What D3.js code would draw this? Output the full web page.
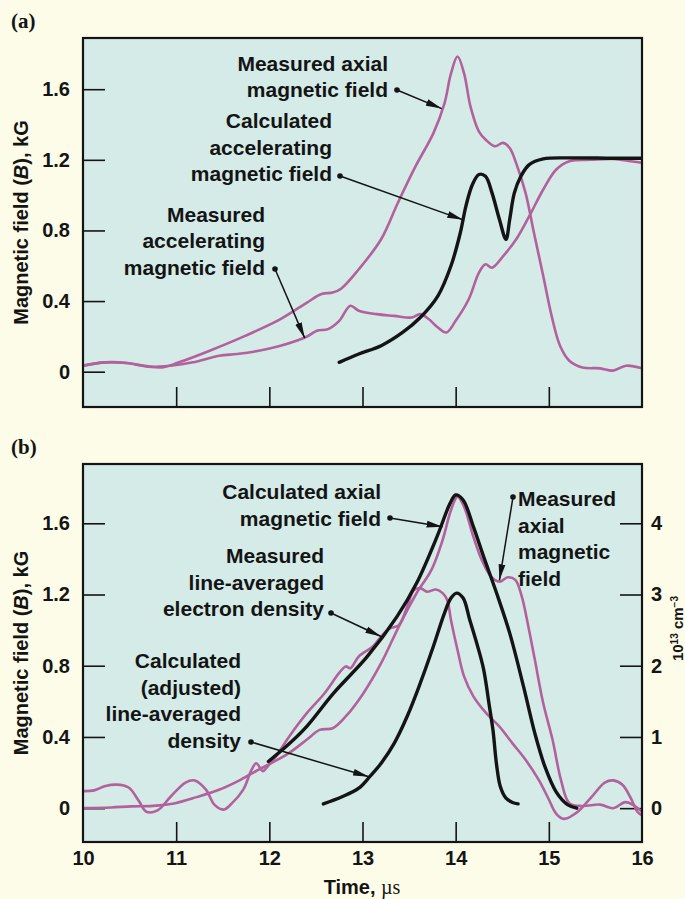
<!DOCTYPE html>
<html>
<head>
<meta charset="utf-8">
<script src="https://cdn.jsdelivr.net/npm/d3@7"></script>
<style>
  html, body { margin: 0; padding: 0; background: #fcfce8; }
  svg { display: block; }
  .tick text { font-family: "Liberation Sans", Arial, Helvetica, sans-serif; font-weight: bold; font-size: 20px; fill: #151515; }
</style>
</head>
<body>
<svg id="fig" width="685" height="899"></svg>
<script>
// ---- axis ticks ----
const timeTicks = [10, 11, 12, 13, 14, 15, 16];
const fieldTicks = [0, 0.4, 0.8, 1.2, 1.6];
const fieldTickLabels = ["0", "0.4", "0.8", "1.2", "1.6"];
const densityTicks = [0, 1, 2, 3, 4];

// ---- panel (a): [time (µs), field (kG)] ----
const aMeasuredAxial = [
  [10, 0.034], [10.24, 0.053], [10.47, 0.049], [10.66, 0.034], [10.85, 0.024],
  [11.03, 0.053], [11.36, 0.119], [11.74, 0.203], [12.12, 0.298], [12.4, 0.39],
  [12.56, 0.44], [12.68, 0.448], [12.77, 0.47], [12.96, 0.58], [13.2, 0.75],
  [13.38, 0.957], [13.57, 1.164], [13.76, 1.35], [13.88, 1.52], [13.95, 1.69],
  [14.02, 1.785], [14.09, 1.69], [14.16, 1.5], [14.25, 1.36], [14.32, 1.315],
  [14.42, 1.277], [14.51, 1.296], [14.58, 1.267], [14.65, 1.18], [14.75, 1.013],
  [14.84, 0.787], [14.94, 0.542], [15.03, 0.316], [15.12, 0.147], [15.22, 0.062],
  [15.36, 0.024], [15.55, 0.019], [15.69, 0.006], [15.83, 0.034], [16, 0.019]
];
const aMeasuredAccel = [
  [10, 0.034], [10.24, 0.053], [10.47, 0.049], [10.7, 0.028], [10.94, 0.034],
  [11.18, 0.053], [11.46, 0.09], [11.65, 0.1], [11.83, 0.113], [12.12, 0.147],
  [12.4, 0.198], [12.51, 0.232], [12.63, 0.241], [12.75, 0.288], [12.87, 0.373],
  [12.96, 0.345], [13.15, 0.326], [13.34, 0.316], [13.53, 0.307], [13.62, 0.326],
  [13.71, 0.298], [13.81, 0.25], [13.9, 0.222], [14.0, 0.288], [14.14, 0.41],
  [14.25, 0.561], [14.32, 0.608], [14.39, 0.589], [14.51, 0.655], [14.65, 0.75],
  [14.79, 0.881], [14.94, 1.032], [15.08, 1.145], [15.22, 1.192], [15.45, 1.2],
  [15.69, 1.205], [15.88, 1.192], [16, 1.183]
];
const aCalculatedAccel = [
  [12.75, 0.053], [12.96, 0.1], [13.2, 0.147], [13.43, 0.222], [13.62, 0.307],
  [13.81, 0.43], [13.95, 0.6], [14.05, 0.787], [14.11, 0.938], [14.18, 1.06],
  [14.25, 1.117], [14.32, 1.107], [14.39, 1.013], [14.47, 0.862], [14.54, 0.75],
  [14.58, 0.862], [14.63, 1.013], [14.7, 1.107], [14.79, 1.173], [14.94, 1.205],
  [15.22, 1.211], [15.69, 1.209], [16, 1.209]
];

// ---- panel (b): field in kG, density in 10^13 cm^-3 ----
const bCalculatedAxial = [
  [11.99, 0.262], [12.21, 0.36], [12.4, 0.458], [12.69, 0.646], [13.05, 0.851],
  [13.37, 1.076], [13.58, 1.263], [13.8, 1.525], [13.94, 1.712], [14.0, 1.759],
  [14.08, 1.731], [14.19, 1.581], [14.3, 1.413], [14.44, 1.207], [14.58, 0.983],
  [14.73, 0.68], [14.85, 0.42], [14.96, 0.23], [15.08, 0.09], [15.2, 0.02], [15.3, 0.0]
];
const bMeasuredAxial = [
  [10, 0], [10.3, 0.004], [10.52, 0.01], [10.75, 0.013], [10.99, 0.028],
  [11.22, 0.062], [11.46, 0.103], [11.69, 0.159], [11.88, 0.215], [12.02, 0.253],
  [12.21, 0.309], [12.4, 0.384], [12.54, 0.44], [12.68, 0.449], [12.82, 0.515],
  [13.01, 0.646], [13.2, 0.814], [13.39, 1.02], [13.58, 1.207], [13.74, 1.338],
  [13.86, 1.506], [13.95, 1.675], [14.02, 1.75], [14.09, 1.693], [14.19, 1.525],
  [14.28, 1.394], [14.38, 1.3], [14.47, 1.272], [14.56, 1.297], [14.64, 1.282],
  [14.71, 1.188], [14.78, 1.02], [14.85, 0.833], [14.94, 0.589], [15.04, 0.384],
  [15.13, 0.159], [15.22, 0.028], [15.36, 0.012], [15.55, 0.02], [15.69, 0.0],
  [15.82, 0.034], [15.9, 0.02], [16, -0.02]
];
const bMeasuredDensity = [
  [10, 0.24], [10.12, 0.25], [10.24, 0.31], [10.36, 0.33], [10.49, 0.29],
  [10.6, 0.1], [10.68, -0.05], [10.8, -0.03], [10.94, 0.16], [11.1, 0.36],
  [11.2, 0.39], [11.32, 0.26], [11.41, 0.05], [11.51, -0.02], [11.6, 0.07],
  [11.72, 0.26], [11.81, 0.54], [11.86, 0.63], [11.93, 0.52], [11.98, 0.585],
  [12.07, 0.725], [12.21, 1.0], [12.4, 1.33], [12.59, 1.61], [12.75, 1.9],
  [12.82, 1.99], [12.87, 1.965], [12.96, 2.13], [13.11, 2.27], [13.2, 2.41],
  [13.29, 2.52], [13.39, 2.57], [13.48, 2.83], [13.55, 3.06], [13.62, 3.09],
  [13.69, 3.04], [13.79, 3.07], [13.86, 3.02], [13.91, 2.92], [13.95, 2.64],
  [14.02, 2.22], [14.09, 1.85], [14.19, 1.57], [14.33, 1.33], [14.47, 1.145],
  [14.61, 0.91], [14.75, 0.68], [14.89, 0.4], [14.99, 0.15], [15.08, -0.08],
  [15.16, -0.15], [15.3, -0.06], [15.46, 0.16], [15.6, 0.36], [15.69, 0.39],
  [15.79, 0.33], [15.88, 0.14], [15.95, -0.05], [16, -0.1]
];
const bCalculatedDensity = [
  [12.58, 0.06], [12.78, 0.16], [12.96, 0.28], [13.08, 0.445], [13.2, 0.63],
  [13.34, 0.91], [13.48, 1.29], [13.62, 1.755], [13.76, 2.27], [13.88, 2.74],
  [13.95, 2.95], [14.01, 3.02], [14.08, 2.95], [14.15, 2.65], [14.23, 2.3],
  [14.3, 1.95], [14.36, 1.45], [14.4, 1.1], [14.44, 0.6], [14.48, 0.3],
  [14.54, 0.14], [14.61, 0.08], [14.67, 0.06]
];

// ---- styling ----
const PINK = "#b3619c";
const INK = "#141414";
const PLOT_BG = "#d4ebe8";
const SANS = '"Liberation Sans", Arial, Helvetica, sans-serif';
const SERIF = '"Liberation Serif", "Times New Roman", serif';

const svg = d3.select("#fig");

// arrowhead marker
const defs = svg.append("defs");
defs.append("marker")
  .attr("id", "head")
  .attr("viewBox", "0 0 16 8")
  .attr("refX", 16).attr("refY", 4)
  .attr("markerWidth", 16).attr("markerHeight", 8)
  .attr("markerUnits", "userSpaceOnUse")
  .attr("orient", "auto")
  .append("path").attr("d", "M0,0.6 L16,4 L0,7.4 Z").attr("fill", INK);

const x = d3.scaleLinear().domain([10, 16]).range([83, 642]);

function panel(cfg) {
  const g = svg.append("g");
  const y = d3.scaleLinear().domain(cfg.yDomain).range([cfg.bottom, cfg.top]);
  const [x0, x1] = x.range();

  const clipId = "clip-" + cfg.id;
  defs.append("clipPath").attr("id", clipId)
    .append("rect").attr("x", x0).attr("y", cfg.top)
    .attr("width", x1 - x0).attr("height", cfg.bottom - cfg.top);

  g.append("rect")
    .attr("x", x0).attr("y", cfg.top)
    .attr("width", x1 - x0).attr("height", cfg.bottom - cfg.top)
    .attr("fill", PLOT_BG);

  // left axis, ticks pointing inward
  const left = g.append("g").attr("transform", `translate(${x0},0)`)
    .call(d3.axisLeft(y).tickValues(fieldTicks)
      .tickFormat((d, i) => fieldTickLabels[i])
      .tickSizeInner(-22).tickSizeOuter(0).tickPadding(13));
  left.select(".domain").remove();
  left.selectAll(".tick line").attr("stroke", INK).attr("stroke-width", 1.6);

  // bottom axis, ticks pointing inward
  const bottom = g.append("g").attr("transform", `translate(0,${cfg.bottom})`)
    .call(d3.axisBottom(x).tickValues(timeTicks)
      .tickFormat(cfg.xLabels ? d3.format("d") : () => "")
      .tickSizeInner(-20).tickSizeOuter(0).tickPadding(9));
  bottom.select(".domain").remove();
  bottom.selectAll(".tick line").attr("stroke", INK).attr("stroke-width", 1.6);
  bottom.selectAll(".tick").filter(d => d === 10 || d === 16).select("line").remove();

  let y2 = null;
  if (cfg.density) {
    y2 = d3.scaleLinear().domain(cfg.yDomain.map(v => v * 2.5)).range([cfg.bottom, cfg.top]);
    const right = g.append("g").attr("transform", `translate(${x1},0)`)
      .call(d3.axisRight(y2).tickValues(densityTicks)
        .tickFormat(d3.format("d"))
        .tickSizeInner(-22).tickSizeOuter(0).tickPadding(9));
    right.select(".domain").remove();
    right.selectAll(".tick line").attr("stroke", INK).attr("stroke-width", 1.6);
  }

  const plot = g.append("g").attr("clip-path", `url(#${clipId})`);
  cfg.series.forEach(s => {
    const ys = s.axis === "density" ? y2 : y;
    const line = d3.line()
      .x(d => x(d[0])).y(d => ys(d[1]))
      .curve(d3.curveCatmullRom.alpha(0.5));
    plot.append("path").datum(s.data)
      .attr("d", line)
      .attr("fill", "none")
      .attr("stroke", s.color)
      .attr("stroke-width", s.color === INK ? 3.4 : 2.6)
      .attr("stroke-linejoin", "round").attr("stroke-linecap", "round");
  });

  // frame
  g.append("rect")
    .attr("x", x0).attr("y", cfg.top)
    .attr("width", x1 - x0).attr("height", cfg.bottom - cfg.top)
    .attr("fill", "none").attr("stroke", INK).attr("stroke-width", 2.2);

  // panel letter
  g.append("text").attr("x", 11).attr("y", cfg.letterY)
    .attr("font-family", SERIF).attr("font-weight", "bold").attr("font-size", 21)
    .attr("fill", INK).text(cfg.letter);

  // y-axis title
  const title = g.append("text")
    .attr("transform", `translate(28,${(cfg.top + cfg.bottom) / 2}) rotate(-90)`)
    .attr("text-anchor", "middle")
    .attr("font-family", SANS).attr("font-weight", "bold").attr("font-size", 20)
    .attr("fill", INK);
  title.append("tspan").text("Magnetic field (");
  title.append("tspan").attr("font-style", "italic").text("B");
  title.append("tspan").text("), kG");

  // annotations: text block, leader dot, arrow onto a curve point
  cfg.notes.forEach(n => {
    const t = g.append("text")
      .attr("font-family", SANS).attr("font-weight", "bold").attr("font-size", 21)
      .attr("fill", INK).attr("text-anchor", n.anchor || "end");
    n.lines.forEach((txt, i) => {
      t.append("tspan").attr("x", n.tx).attr("y", n.ty + i * 26.6).text(txt);
    });
    const ys = n.axis === "density" ? y2 : y;
    g.append("circle").attr("cx", n.dot[0]).attr("cy", n.dot[1]).attr("r", 2.8).attr("fill", INK);
    g.append("line")
      .attr("x1", n.dot[0]).attr("y1", n.dot[1])
      .attr("x2", x(n.at[0])).attr("y2", ys(n.at[1]))
      .attr("stroke", INK).attr("stroke-width", 1.5)
      .attr("marker-end", "url(#head)");
  });

  return { y, y2 };
}

// ---- (a) ----
panel({
  id: "a", letter: "(a)", letterY: 28,
  top: 38, bottom: 407, yDomain: [-0.2, 1.89], xLabels: false,
  series: [
    { data: aMeasuredAxial, color: PINK },
    { data: aMeasuredAccel, color: PINK },
    { data: aCalculatedAccel, color: INK }
  ],
  notes: [
    { lines: ["Measured axial", "magnetic field"], tx: 388, ty: 70.5, dot: [397, 90], at: [13.85, 1.49] },
    { lines: ["Calculated", "accelerating", "magnetic field"], tx: 332, ty: 128, dot: [340, 176], at: [14.08, 0.86] },
    { lines: ["Measured", "accelerating", "magnetic field"], tx: 265, ty: 221.5, dot: [275, 269], at: [12.38, 0.19] }
  ]
});

// ---- (b) ----
panel({
  id: "b", letter: "(b)", letterY: 454,
  top: 464, bottom: 842, yDomain: [-0.19, 1.933], xLabels: true, density: true,
  series: [
    { data: bMeasuredDensity, color: PINK, axis: "density" },
    { data: bMeasuredAxial, color: PINK },
    { data: bCalculatedAxial, color: INK },
    { data: bCalculatedDensity, color: INK, axis: "density" }
  ],
  notes: [
    { lines: ["Calculated axial", "magnetic field"], tx: 381, ty: 499, dot: [390, 518], at: [13.86, 1.58] },
    { lines: ["Measured", "line-averaged", "electron density"], tx: 324, ty: 563, dot: [331, 613], at: [13.2, 2.41], axis: "density" },
    { lines: ["Calculated", "(adjusted)", "line-averaged", "density"], tx: 241, ty: 668, dot: [251, 742], at: [13.07, 0.44], axis: "density" },
    { lines: ["Measured", "axial", "magnetic", "field"], tx: 518, ty: 506, dot: [513, 497], at: [14.47, 1.28], anchor: "start" }
  ]
});

// x-axis title
const xt = svg.append("text").attr("x", 362).attr("y", 894)
  .attr("text-anchor", "middle").attr("font-family", SANS)
  .attr("font-weight", "bold").attr("font-size", 20).attr("fill", INK);
xt.append("tspan").text("Time,  ");
xt.append("tspan").attr("font-family", SERIF).attr("font-weight", "normal").text("µs");

// right-axis title, tucked against the page edge
const rt = svg.append("text")
  .attr("transform", "translate(683,596) rotate(-90)")
  .attr("text-anchor", "end").attr("font-family", SANS)
  .attr("font-weight", "bold").attr("font-size", 15).attr("fill", INK);
rt.append("tspan").text("10");
rt.append("tspan").attr("dy", -5).attr("font-size", 10).text("13");
rt.append("tspan").attr("dy", 5).text(" cm");
rt.append("tspan").attr("dy", -5).attr("font-size", 10).text("\u22123");
</script>
</body>
</html>
